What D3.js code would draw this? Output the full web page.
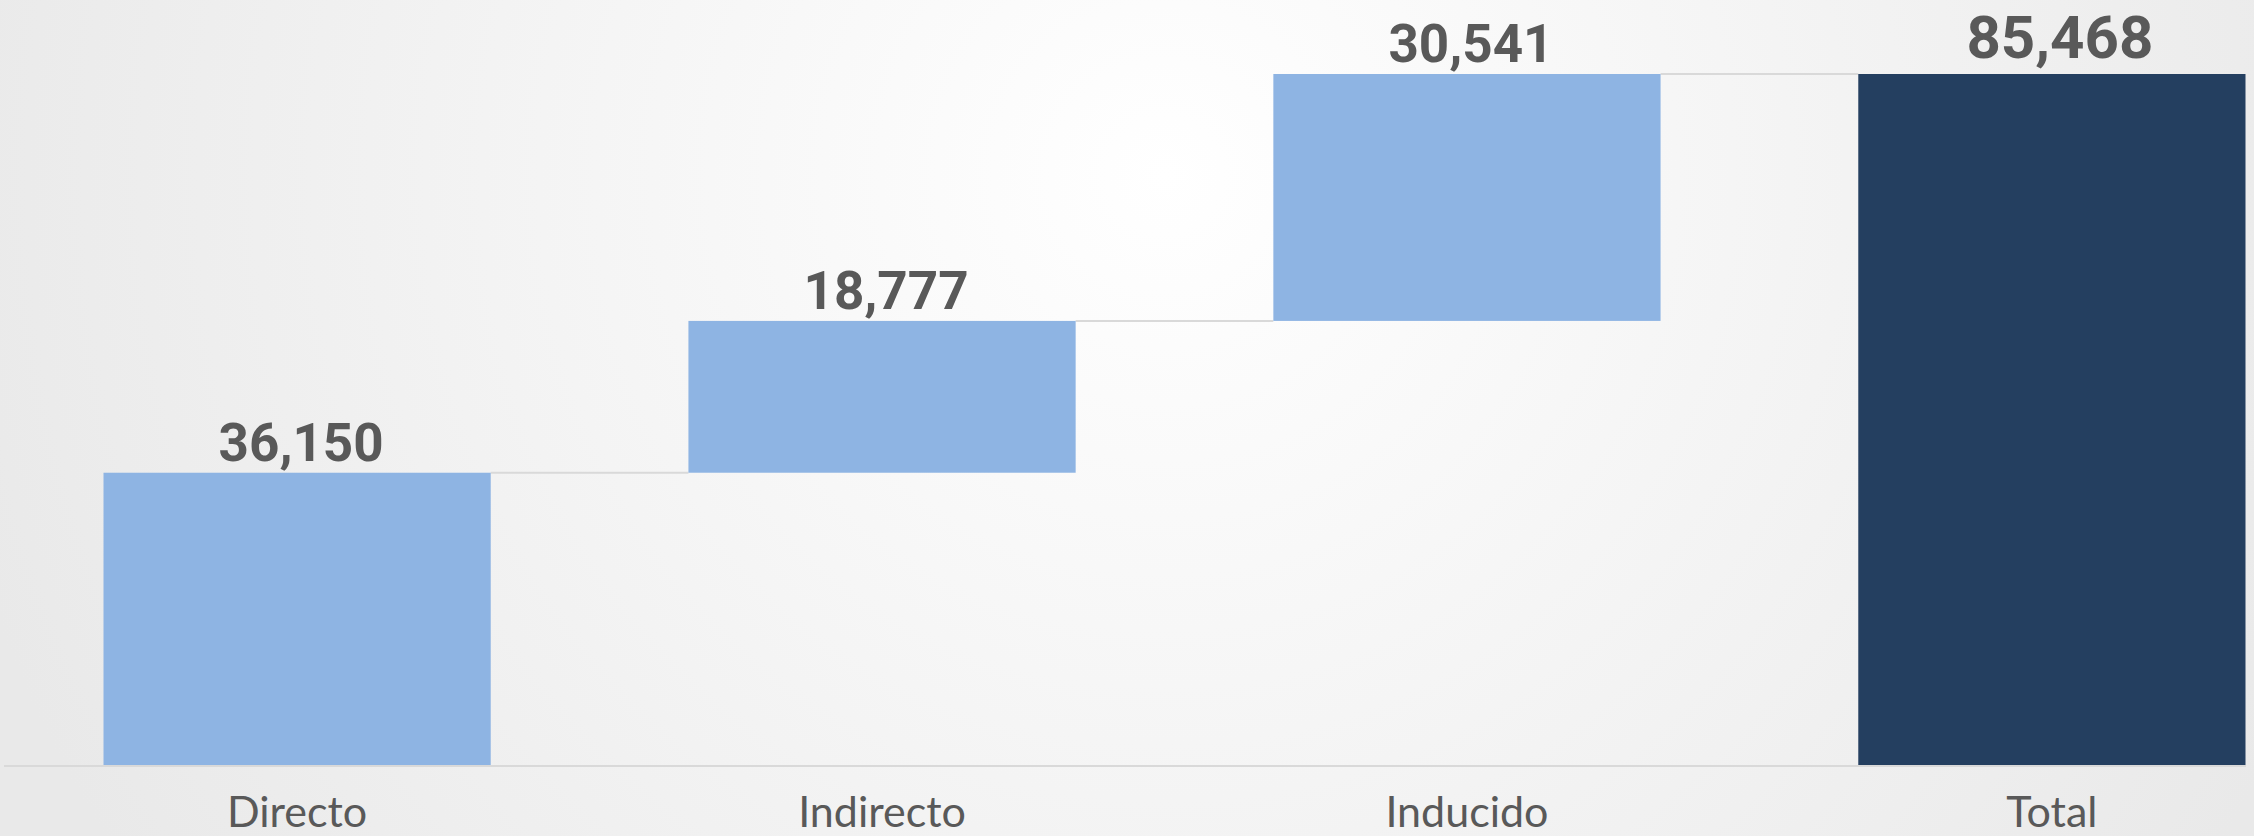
<!DOCTYPE html>
<html>
<head>
  <meta charset="utf-8">
  <title>Waterfall</title>
  <script src="https://d3js.org/d3.v7.min.js"></script>
  <style>
    html, body { margin: 0; padding: 0; overflow: hidden; }
  </style>
</head>
<body>
<script type="text/javascript">
  var categories = ["Directo", "Indirecto", "Inducido", "Total"];
  var values = [36150, 18777, 30541, 85468];
  var isTotal = [false, false, false, true];

  var w = 2254;
  var h = 836;

  // running totals for the floating bars
  var data = [];
  var run = 0;
  categories.forEach(function(c, i){
    var start = isTotal[i] ? 0 : run;
    var end = isTotal[i] ? values[i] : run + values[i];
    if (!isTotal[i]) run = end;
    data.push({cat: c, value: values[i], start: start, end: end, total: isTotal[i]});
  });

  var svg = d3.select("body").append("svg")
    .attr("width", w)
    .attr("height", h);

  var defs = svg.append("defs");
  var grad = defs.append("radialGradient")
    .attr("id", "bg")
    .attr("gradientUnits", "userSpaceOnUse")
    .attr("cx", 1165).attr("cy", 175).attr("r", 1250);
  grad.append("stop").attr("offset", "0%").attr("stop-color", "#ffffff");
  grad.append("stop").attr("offset", "100%").attr("stop-color", "#e9e9e9");

  svg.append("rect")
    .attr("width", w).attr("height", h)
    .attr("fill", "url(#bg)");

  var x = d3.scaleBand()
    .domain(categories)
    .range([103.5, 2245.5])
    .paddingInner(0.338)
    .paddingOuter(0);

  var y = d3.scaleLinear()
    .domain([0, d3.max(values)])
    .range([765, 74]);

  // baseline
  svg.append("line")
    .attr("x1", 4).attr("x2", 2246)
    .attr("y1", y(0) + 1).attr("y2", y(0) + 1)
    .attr("stroke", "#d9d9d9")
    .attr("stroke-width", 2);

  // connectors
  svg.selectAll(".conn")
    .data(data.slice(0, -1))
    .enter()
    .append("line")
    .attr("class", "conn")
    .attr("x1", function(d){ return x(d.cat) + x.bandwidth(); })
    .attr("x2", function(d, i){ return x(categories[i + 1]); })
    .attr("y1", function(d){ return y(d.end); })
    .attr("y2", function(d){ return y(d.end); })
    .attr("stroke", "#d9d9d9")
    .attr("stroke-width", 2);

  svg.selectAll(".bar")
    .data(data)
    .enter()
    .append("rect")
    .attr("class", "bar")
    .attr("x", function(d){ return x(d.cat); })
    .attr("width", x.bandwidth())
    .attr("y", function(d){ return y(d.end); })
    .attr("height", function(d){ return y(d.start) - y(d.end); })
    .attr("fill", function(d){ return d.total ? "#243f60" : "#8eb4e3"; });

  var fmt = d3.format(",");

  svg.selectAll(".val")
    .data(data)
    .enter()
    .append("text")
    .attr("class", "val")
    .attr("x", function(d){ return x(d.cat) + x.bandwidth() / 2 + (d.total ? 8 : 4); })
    .attr("y", function(d){ return y(d.end) - (d.total ? 16 : 12); })
    .attr("text-anchor", "middle")
    .attr("font-family", "Roboto, Lato, sans-serif")
    .attr("font-weight", "bold")
    .attr("font-size", function(d){ return d.total ? 60 : 53; })
    .attr("fill", "#595959")
    .text(function(d){ return fmt(d.value); });

  svg.selectAll(".cat")
    .data(data)
    .enter()
    .append("text")
    .attr("class", "cat")
    .attr("x", function(d){ return x(d.cat) + x.bandwidth() / 2; })
    .attr("y", 827)
    .attr("text-anchor", "middle")
    .attr("font-family", "Lato, 'Open Sans', sans-serif")
    .attr("font-size", 43)
    .attr("fill", "#595959")
    .text(function(d){ return d.cat; });
</script>
</body>
</html>
